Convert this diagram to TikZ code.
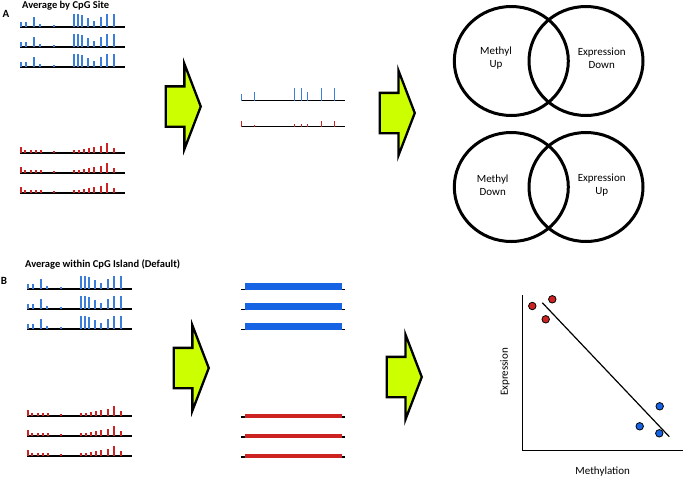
\documentclass[tikz,border=0pt]{standalone}
\usepackage{fontspec}
\setmainfont{Carlito}
\usetikzlibrary{positioning,shapes,arrows}
\definecolor{siteblue}{RGB}{58,125,219}
\definecolor{sitered}{RGB}{204,34,34}
\definecolor{barblue}{RGB}{22,100,228}
\definecolor{lime}{RGB}{204,255,0}
\tikzstyle{bigarrow} = [single arrow, draw=black, fill=lime, line width=2.3pt, anchor=tip, minimum height=35pt, minimum width=84pt, inner xsep=0pt, inner ysep=19pt, text height=0pt, text depth=0pt, single arrow head extend=22.5pt, single arrow tip angle=138]
\tikzstyle{track} = [line width=1.3pt, black]
\tikzstyle{tick} = [line width=1.4pt]
\tikzstyle{venn} = [ellipse, draw=black, line width=3pt, minimum width=114pt, minimum height=109pt]
\tikzstyle{title} = [font=\bfseries\fontsize{10.5}{12}\selectfont, anchor=west, inner sep=0pt]
\tikzstyle{panel} = [font=\bfseries\fontsize{11}{12}\selectfont, inner sep=0pt]
\tikzstyle{label} = [font=\fontsize{11}{12.6}\selectfont, align=center, inner sep=0pt]
\tikzstyle{dot} = [circle, draw=black, line width=0.8pt, minimum size=7.5pt, inner sep=0pt]
% offset/height of the sites along one track
\newcommand{\bluesites}{1/5,6/5,14/10,20/3,34/2,54/13,58/13,62/12,68/9,74/6,81/10,87/13,94/13}
\newcommand{\redsites}{1/6,5/3,11/3,16/3,21/3,34/2,54/3,59/3,64/4,69/5,74/6,81/7,87/10,94/5}
\newcommand{\avgblue}{0/7,13/9,53/13,60/13,66/9,80/13,93/13}
\newcommand{\avgred}{0/6,13/2,53/3,60/3,66/3,80/6,93/6}
\newcommand{\sitetrack}[4]{% start, length, colour, sites
  \begin{scope}[shift={(#1)}]
    \draw [track] (0,0) -- (#2,0);
    \foreach \dx/\h in #4 \draw [tick,#3] (\dx,0) -- (\dx,-\h);
  \end{scope}}
\newcommand{\islandbar}[4]{% start, length, colour, thickness
  \begin{scope}[shift={(#1)}]
    \draw [track] (0,0) -- (#2,0);
    \fill [#3] (4,0.6) rectangle (#2-3.5,-#4);
  \end{scope}}

\begin{document}
\begin{tikzpicture}[x=1pt,y=-1pt]
\useasboundingbox (0,0) rectangle (683,477);
%-----------------------------------------------
% panel A
\node (pA) [panel] at (6,13.5) {A};
\node (tA) [title] at (22,6) {Average by CpG Site};
\coordinate (a1) at (20,27);
\coordinate (a2) at (20,47);
\coordinate (a3) at (20,67);
\coordinate (a4) at (20,153);
\coordinate (a5) at (20,173);
\coordinate (a6) at (20,193);
\foreach \t in {a1,a2,a3} \sitetrack{\t}{105}{siteblue}{\bluesites};
\foreach \t in {a4,a5,a6} \sitetrack{\t}{105}{sitered}{\redsites};
\coordinate (am1) at (241.7,100.7);
\coordinate (am2) at (241.7,126.7);
\sitetrack{am1}{103.3}{siteblue}{\avgblue};
\sitetrack{am2}{103.3}{sitered}{\avgred};
\node (arA1) [bigarrow] at (202,106.5) {};
\node (arA2) [bigarrow] at (416,113) {};
\node (mu) [venn] at (511.3,61) {};
\node (ed) [venn] at (586,61) {};
\node (md) [venn] at (511.3,187) {};
\node (eu) [venn] at (586,187) {};
\node (lmu) [label] at (496,58) {Methyl\\Up};
\node (led) [label] at (601.7,58) {Expression\\Down};
\node (lmd) [label] at (492.7,185) {Methyl\\Down};
\node (leu) [label] at (601.7,185) {Expression\\Up};
%-----------------------------------------------
% panel B
\node (pB) [panel] at (4,281) {B};
\node (tB) [title] at (25,264) {Average within CpG Island (Default)};
\coordinate (b1) at (27,289);
\coordinate (b2) at (27,309);
\coordinate (b3) at (27,329);
\coordinate (b4) at (27,416);
\coordinate (b5) at (27,436);
\coordinate (b6) at (27,456);
\foreach \t in {b1,b2,b3} \sitetrack{\t}{105}{siteblue}{\bluesites};
\foreach \t in {b4,b5,b6} \sitetrack{\t}{105}{sitered}{\redsites};
\coordinate (bm1) at (241,289.3);
\coordinate (bm2) at (241,309.3);
\coordinate (bm3) at (241,329.3);
\coordinate (bm4) at (241,417);
\coordinate (bm5) at (241,437);
\coordinate (bm6) at (241,457);
\foreach \t in {bm1,bm2,bm3} \islandbar{\t}{104}{barblue}{6.6};
\foreach \t in {bm4,bm5,bm6} \islandbar{\t}{104}{sitered}{3};
\node (arB1) [bigarrow] at (210,368) {};
\node (arB2) [bigarrow] at (423,377) {};
% scatter plot
\coordinate (ytop) at (522.3,295);
\coordinate (orig) at (522.3,450.7);
\coordinate (xend) at (682.5,450.7);
\coordinate (fit1) at (542.3,302.7);
\coordinate (fit2) at (669.3,436.7);
\draw [line width=1.2pt] (ytop) -- (orig) -- (xend);
\draw [line width=1.2pt] (fit1) -- (fit2);
\node (r1) [dot,fill=sitered] at (532.3,306) {};
\node (r2) [dot,fill=sitered] at (552.3,299.3) {};
\node (r3) [dot,fill=sitered] at (545.7,319.3) {};
\node (u1) [dot,fill=barblue] at (659.7,406.3) {};
\node (u2) [dot,fill=barblue] at (639.7,426.3) {};
\node (u3) [dot,fill=barblue] at (659.3,433.3) {};
\node (xlab) [label] at (602.7,471.7) {Methylation};
\node (ylab) [label,rotate=90] at (505,372) {Expression};
\end{tikzpicture}
\end{document}
